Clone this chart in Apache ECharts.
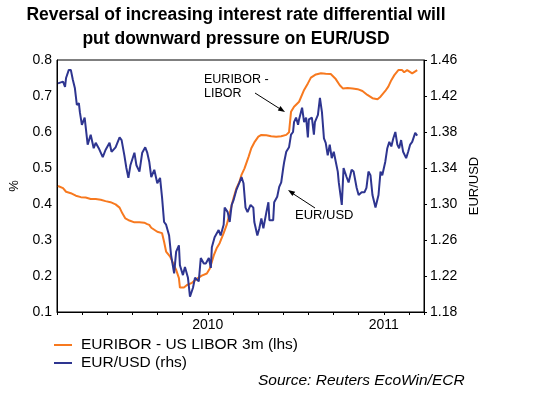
<!DOCTYPE html>
<html>
<head>
<meta charset="utf-8">
<script src="https://cdn.jsdelivr.net/npm/echarts@6/dist/echarts.min.js"></script>
<style>
  html, body { margin: 0; padding: 0; background: #fff; }
  #chart { width: 540px; height: 396px; }
</style>
</head>
<body>
<div id="chart"></div>
<script>
// x = months since Jan 2010
var spread = [
  [0.04,0.45],[0.24,0.444],[0.36,0.434],[0.55,0.43],[0.75,0.423],[0.95,0.419],[1.14,0.418],
  [1.34,0.414],[1.54,0.414],[1.74,0.412],[1.93,0.408],[2.13,0.405],[2.33,0.399],[2.49,0.39],
  [2.60,0.374],[2.72,0.36],[2.88,0.354],[3.08,0.349],[3.28,0.349],[3.47,0.348],[3.59,0.344],
  [3.67,0.342],[3.75,0.334],[3.79,0.332],[3.99,0.323],[4.18,0.319],[4.26,0.295],[4.34,0.268],
  [4.50,0.254],[4.62,0.235],[4.74,0.217],[4.85,0.194],[4.89,0.168],[5.05,0.168],[5.17,0.175],
  [5.37,0.181],[5.56,0.192],[5.76,0.201],[5.96,0.207],[6.08,0.221],[6.24,0.258],[6.35,0.277],
  [6.47,0.291],[6.63,0.319],[6.75,0.342],[6.87,0.374],[7.02,0.416],[7.14,0.444],[7.26,0.462],
  [7.34,0.481],[7.46,0.499],[7.62,0.531],[7.73,0.555],[7.85,0.571],[8.01,0.587],[8.13,0.592],
  [8.33,0.591],[8.52,0.588],[8.72,0.587],[8.92,0.588],[9.12,0.592],[9.23,0.599],[9.31,0.656],
  [9.43,0.67],[9.63,0.684],[9.83,0.717],[9.98,0.735],[10.10,0.751],[10.30,0.76],[10.50,0.763],
  [10.69,0.762],[10.89,0.761],[11.09,0.747],[11.25,0.73],[11.37,0.721],[11.56,0.722],
  [11.76,0.721],[11.96,0.719],[12.15,0.714],[12.35,0.703],[12.55,0.694],[12.75,0.691],
  [12.87,0.698],[13.06,0.714],[13.18,0.726],[13.30,0.744],[13.42,0.758],[13.58,0.772],
  [13.73,0.772],[13.81,0.766],[13.93,0.772],[14.13,0.763],[14.33,0.772]
];

var eurusd = [
  [0.04,1.434],[0.24,1.436],[0.32,1.430],[0.36,1.440],[0.47,1.449],[0.55,1.449],[0.63,1.438],
  [0.71,1.429],[0.79,1.41],[0.87,1.412],[0.91,1.402],[0.99,1.388],[1.10,1.396],[1.14,1.386],
  [1.22,1.366],[1.34,1.377],[1.46,1.362],[1.54,1.368],[1.66,1.362],[1.82,1.352],[1.93,1.36],
  [2.09,1.368],[2.17,1.358],[2.33,1.363],[2.49,1.374],[2.57,1.371],[2.68,1.354],[2.76,1.34],
  [2.84,1.329],[2.92,1.343],[3.08,1.357],[3.16,1.343],[3.28,1.336],[3.39,1.357],[3.51,1.363],
  [3.59,1.357],[3.67,1.347],[3.75,1.33],[3.79,1.332],[3.87,1.338],[3.99,1.323],[4.10,1.329],
  [4.18,1.307],[4.26,1.28],[4.34,1.277],[4.46,1.265],[4.54,1.243],[4.66,1.223],[4.74,1.247],
  [4.85,1.254],[4.89,1.232],[5.01,1.221],[5.09,1.23],[5.21,1.218],[5.29,1.197],[5.41,1.207],
  [5.49,1.218],[5.64,1.214],[5.72,1.24],[5.84,1.234],[5.92,1.234],[6.04,1.24],[6.12,1.229],
  [6.16,1.252],[6.27,1.263],[6.43,1.271],[6.51,1.265],[6.63,1.277],[6.67,1.296],[6.79,1.291],
  [6.87,1.28],[6.95,1.299],[7.02,1.304],[7.14,1.316],[7.26,1.324],[7.34,1.33],[7.42,1.323],
  [7.50,1.296],[7.58,1.291],[7.70,1.299],[7.81,1.296],[7.85,1.28],[7.97,1.265],[8.05,1.273],
  [8.13,1.284],[8.21,1.273],[8.33,1.291],[8.41,1.302],[8.45,1.282],[8.60,1.282],[8.64,1.302],
  [8.76,1.308],[8.84,1.319],[8.92,1.324],[9.00,1.34],[9.04,1.347],[9.12,1.358],[9.23,1.363],
  [9.31,1.377],[9.39,1.38],[9.43,1.391],[9.51,1.396],[9.59,1.388],[9.63,1.394],[9.75,1.407],
  [9.83,1.391],[9.91,1.396],[9.98,1.374],[10.02,1.394],[10.14,1.396],[10.22,1.377],
  [10.26,1.391],[10.38,1.399],[10.46,1.418],[10.54,1.402],[10.62,1.373],[10.69,1.368],
  [10.77,1.354],[10.85,1.366],[10.93,1.351],[11.01,1.358],[11.09,1.347],[11.17,1.336],
  [11.21,1.324],[11.33,1.299],[11.40,1.34],[11.52,1.33],[11.60,1.324],[11.72,1.338],
  [11.80,1.336],[11.92,1.318],[12.00,1.31],[12.12,1.313],[12.23,1.313],[12.31,1.318],
  [12.39,1.336],[12.47,1.332],[12.55,1.31],[12.67,1.296],[12.79,1.31],[12.87,1.336],
  [12.94,1.332],[13.06,1.347],[13.14,1.362],[13.22,1.369],[13.30,1.364],[13.38,1.373],
  [13.46,1.38],[13.54,1.366],[13.61,1.362],[13.69,1.371],[13.77,1.358],[13.89,1.351],
  [13.97,1.358],[14.05,1.366],[14.13,1.369],[14.25,1.379],[14.33,1.376]
];

// year labels sit on the middle of the visible part of each year
var yearLabels = { 6: '2010', 13: '2011' };

var FONT = 'Arial, "Liberation Sans", sans-serif';
var ORANGE = '#F7791F';
var BLUE = '#2E3590';

var dom = document.getElementById('chart');
var myChart = echarts.init(dom, null, { renderer: 'canvas' });

var option = {
  animation: false,
  textStyle: { fontFamily: FONT },
  grid: {
    left: 54, right: 116, top: 60, bottom: 84,
    show: true, borderColor: '#000', borderWidth: 1
  },
  legend: {
    orient: 'vertical',
    left: 54, top: 337,
    padding: 0,
    itemGap: 2,
    icon: 'rect',
    itemWidth: 18, itemHeight: 2,
    textStyle: { fontFamily: FONT, fontSize: 15.5, color: '#000', padding: [0, 0, 0, 4] },
    data: ['EURIBOR - US LIBOR 3m (lhs)', 'EUR/USD (rhs)']
  },
  xAxis: {
    type: 'value',
    min: 0, max: 14.6, interval: 1,
    splitLine: { show: false },
    axisLine: { lineStyle: { color: '#000' } },
    axisTick: { show: true, length: 3, lineStyle: { color: '#000' } },
    axisLabel: {
      color: '#000', fontSize: 14, margin: 6,
      showMinLabel: true, showMaxLabel: true,
      formatter: function (v) { return yearLabels[Math.round(v * 100) / 100] || ''; }
    }
  },
  yAxis: [
    {
      type: 'value',
      min: 0.1, max: 0.8, interval: 0.1,
      name: '%', nameLocation: 'middle', nameRotate: 90, nameGap: 36,
      nameTextStyle: { color: '#000', fontSize: 13 },
      splitLine: { show: false },
      axisLine: { show: true, lineStyle: { color: '#000' } },
      axisTick: { show: false },
      axisLabel: {
        color: '#000', fontSize: 14, margin: 5,
        formatter: function (v) { return v.toFixed(1); }
      }
    },
    {
      type: 'value',
      min: 1.18, max: 1.46, interval: 0.04,
      position: 'right',
      name: 'EUR/USD', nameLocation: 'middle', nameRotate: 90, nameGap: 41,
      nameTextStyle: { color: '#000', fontSize: 13 },
      splitLine: { show: false },
      axisLine: { show: true, lineStyle: { color: '#000' } },
      axisTick: { show: true, length: 3, lineStyle: { color: '#000' } },
      axisLabel: {
        color: '#000', fontSize: 14, margin: 6,
        formatter: function (v) { return v.toFixed(2); }
      }
    }
  ],
  series: [
    {
      name: 'EURIBOR - US LIBOR 3m (lhs)',
      type: 'line',
      yAxisIndex: 0,
      symbol: 'none',
      lineStyle: { color: ORANGE, width: 2 },
      itemStyle: { color: ORANGE },
      data: spread,
      z: 3
    },
    {
      name: 'EUR/USD (rhs)',
      type: 'line',
      yAxisIndex: 1,
      symbol: 'none',
      lineStyle: { color: BLUE, width: 2 },
      itemStyle: { color: BLUE },
      data: eurusd,
      z: 4
    }
  ],
  graphic: [
    {
      type: 'text', x: 236, y: 3,
      style: {
        text: 'Reversal of increasing interest rate differential will\nput downward pressure on EUR/USD',
        font: 'bold 17.5px ' + FONT, fill: '#000', align: 'center', lineHeight: 24
      }
    },
    {
      type: 'text', x: 204, y: 73,
      style: { text: 'EURIBOR -\nLIBOR', font: '12.5px ' + FONT, fill: '#000', lineHeight: 14 }
    },
    {
      type: 'line', shape: { x1: 255, y1: 93, x2: 281, y2: 109.5 },
      style: { stroke: '#000', lineWidth: 1 }
    },
    {
      type: 'polygon', shape: { points: [[285, 112], [277.8, 110.4], [280.4, 106.1]] },
      style: { fill: '#000' }
    },
    {
      type: 'text', x: 295, y: 209,
      style: { text: 'EUR/USD', font: '13px ' + FONT, fill: '#000' }
    },
    {
      type: 'line', shape: { x1: 315, y1: 208, x2: 292, y2: 193 },
      style: { stroke: '#000', lineWidth: 1 }
    },
    {
      type: 'polygon', shape: { points: [[288, 190], [295.2, 191.8], [292.4, 196.0]] },
      style: { fill: '#000' }
    },
    {
      type: 'text', x: 258, y: 373,
      style: { text: 'Source: Reuters EcoWin/ECR', font: 'italic 15.5px ' + FONT, fill: '#000' }
    }
  ]
};

myChart.setOption(option);
window.addEventListener('resize', myChart.resize);
</script>
</body>
</html>
